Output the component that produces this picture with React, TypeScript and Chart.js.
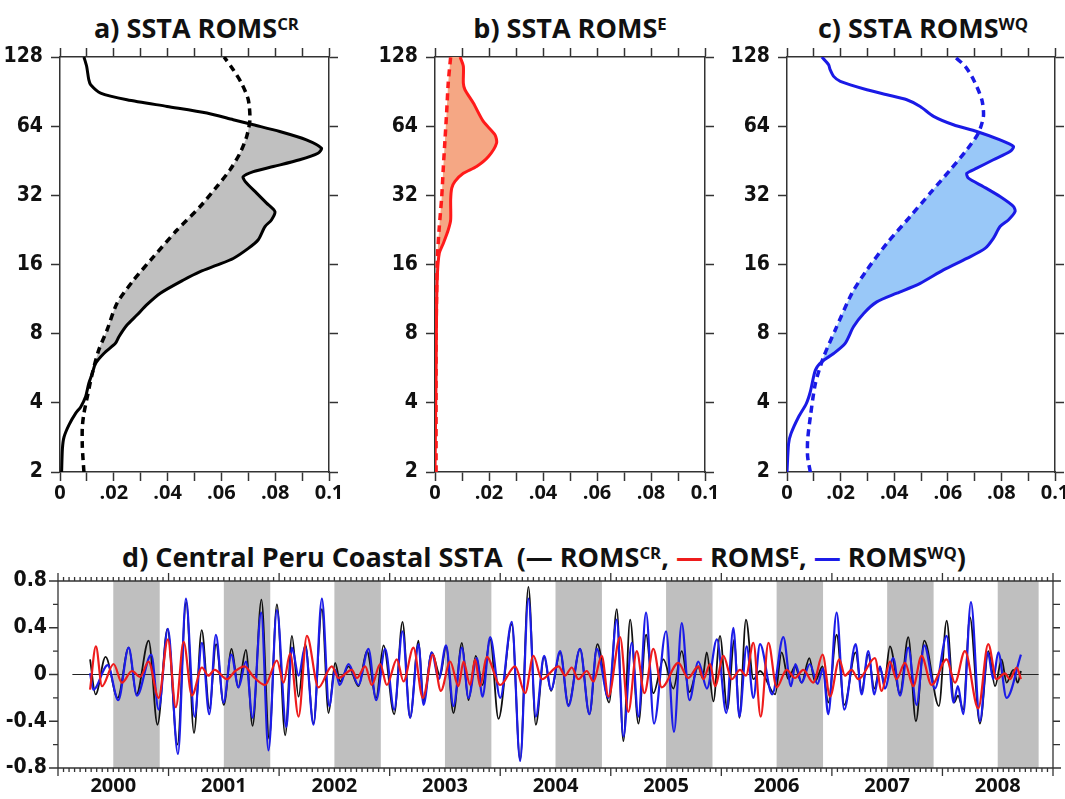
import { useEffect, useRef } from 'react';
import { Chart, registerables } from 'chart.js';

Chart.register(...registerables);

// ---- spectra (panels a-c): period in days on a log2 axis, power on x ----
const periodTicks = [2, 4, 8, 16, 32, 64, 128];
const powerTicks = [0, 0.01, 0.02, 0.03, 0.04, 0.05, 0.06, 0.07, 0.08, 0.09, 0.1];

// a) ROMS CR
const crPeriod = [2, 2.53, 2.84, 3.2, 3.6, 3.84, 4.25, 4.86, 5.37, 5.93, 6.56, 7.26, 7.76, 8.72, 9.64, 10.7, 12.0, 13.7, 14.9, 15.9, 17.0, 18.8, 20.5, 23.4, 25.0, 27.2, 29.6, 32.7, 36.8, 38.6, 40.6, 42.7, 45.7, 48.8, 51.3, 55.8, 60.7, 64.9, 68.3, 73.0, 78.0, 83.4, 89.2, 97, 102, 116.6, 128];
const crPower = [0.0006, 0.0009, 0.0015, 0.0033, 0.0058, 0.0077, 0.0095, 0.0107, 0.012, 0.0132, 0.0163, 0.0206, 0.0219, 0.0249, 0.0286, 0.0323, 0.0373, 0.0459, 0.0521, 0.0583, 0.0644, 0.07, 0.0737, 0.0762, 0.0786, 0.0799, 0.0768, 0.0731, 0.0688, 0.0681, 0.0719, 0.0793, 0.0891, 0.0959, 0.0972, 0.0916, 0.0817, 0.0719, 0.0644, 0.0546, 0.0398, 0.0249, 0.0151, 0.0114, 0.0107, 0.0099, 0.0089];
const crRefPeriod = [2, 2.57, 3.14, 3.6, 4.39, 5.37, 6.78, 8.3, 10.85, 13.7, 17.3, 22.6, 28.6, 34.9, 41.3, 48.8, 57.7, 68.3, 83.4, 98.4, 112.7, 128];
const crRefPower = [0.0089, 0.0083, 0.0083, 0.0089, 0.0104, 0.012, 0.0144, 0.0175, 0.0212, 0.0274, 0.0348, 0.0435, 0.0521, 0.0583, 0.0632, 0.0669, 0.0694, 0.0706, 0.07, 0.0675, 0.0644, 0.061];

// b) ROMS E
const ePeriod = [2, 5.37, 10.5, 14.65, 17.9, 19.8, 22.6, 25.0, 30.6, 34.4, 36.8, 39.9, 42.7, 47.2, 54.0, 58.7, 67.1, 80.7, 92.2, 98.6, 116.6, 128];
const ePower = [0, 0.0004, 0.0006, 0.0009, 0.0016, 0.0031, 0.0049, 0.0058, 0.0058, 0.0062, 0.0074, 0.0105, 0.0154, 0.0198, 0.0228, 0.0222, 0.0179, 0.0142, 0.0111, 0.0105, 0.0105, 0.0093];
const eRefPeriod = [2, 7.5, 12, 17.3, 23.4, 31.6, 42.7, 55.8, 73.0, 98.6, 128];
const eRefPower = [0.0004, 0.0004, 0.0006, 0.0009, 0.0016, 0.0025, 0.0031, 0.0037, 0.0043, 0.0049, 0.0058];

// c) ROMS WQ
const wqPeriod = [2, 2.66, 2.94, 3.47, 3.97, 4.47, 5.55, 6.04, 6.56, 7.26, 8.57, 9.8, 11.0, 12.0, 13.25, 15.15, 17.0, 18.8, 20.8, 23.4, 25.0, 27.2, 28.6, 31.6, 34.9, 38.0, 39.9, 42.0, 45.7, 49.6, 52.2, 55.8, 60.7, 64.9, 70.6, 78.0, 83.4, 87.7, 92.2, 100.3, 105.4, 112.7, 118.5, 128];
const wqPower = [0, 0.0006, 0.0015, 0.0043, 0.0072, 0.0087, 0.0106, 0.013, 0.0174, 0.0217, 0.0248, 0.0286, 0.0335, 0.041, 0.0497, 0.0584, 0.0671, 0.0739, 0.077, 0.0795, 0.0826, 0.0851, 0.0845, 0.0795, 0.0733, 0.0677, 0.0671, 0.0708, 0.077, 0.0832, 0.0845, 0.0795, 0.0708, 0.0621, 0.0547, 0.0497, 0.0447, 0.0373, 0.0298, 0.0199, 0.0174, 0.0161, 0.0155, 0.013];
const wqRefPeriod = [2, 2.33, 2.75, 3.47, 4.86, 6.35, 8.3, 11.98, 15.15, 19.8, 25.9, 32.7, 41.3, 50.5, 59.7, 70.6, 83.4, 102, 116.6, 128];
const wqRefPower = [0.0087, 0.0077, 0.0077, 0.0087, 0.0106, 0.0137, 0.018, 0.0242, 0.0298, 0.0373, 0.046, 0.0534, 0.0609, 0.0671, 0.0714, 0.0733, 0.0727, 0.0696, 0.0665, 0.0627];

// ---- d) coastal SSTA time series (decimal year, degC) ----
const yearTicks = [2000, 2001, 2002, 2003, 2004, 2005, 2006, 2007, 2008];
const sstaTicks = [-0.8, -0.4, 0, 0.4, 0.8];
const shadeFrom = [2000, 2001, 2002, 2003, 2004, 2005, 2006, 2007, 2008];
const shadeTo = [2000.42, 2001.42, 2002.42, 2003.42, 2004.42, 2005.42, 2006.42, 2007.42, 2008.37];
const zeroSpan = [1999.63, 2008.37];
const zeroValue = [0, 0];

const crYear = [1999.79, 1999.84, 1999.93, 2000.04, 2000.14, 2000.21, 2000.32, 2000.40, 2000.49, 2000.58, 2000.66, 2000.73, 2000.80, 2000.87, 2000.93, 2001.00, 2001.07, 2001.13, 2001.20, 2001.26, 2001.34, 2001.41, 2001.48, 2001.555, 2001.616, 2001.676, 2001.736, 2001.811, 2001.887, 2001.947, 2002.007, 2002.052, 2002.128, 2002.218, 2002.294, 2002.378, 2002.444, 2002.541, 2002.616, 2002.685, 2002.761, 2002.806, 2002.881, 2002.957, 2003.01, 2003.077, 2003.153, 2003.213, 2003.279, 2003.34, 2003.409, 2003.484, 2003.605, 2003.68, 2003.755, 2003.822, 2003.897, 2003.96, 2004.042, 2004.117, 2004.222, 2004.307, 2004.379, 2004.485, 2004.554, 2004.614, 2004.675, 2004.75, 2004.819, 2004.885, 2004.976, 2005.066, 2005.142, 2005.211, 2005.292, 2005.33, 2005.368, 2005.428, 2005.488, 2005.554, 2005.618, 2005.663, 2005.723, 2005.79, 2005.85, 2005.986, 2006.046, 2006.106, 2006.166, 2006.226, 2006.296, 2006.347, 2006.416, 2006.467, 2006.543, 2006.612, 2006.715, 2006.769, 2006.829, 2006.884, 2006.935, 2006.974, 2007.025, 2007.116, 2007.191, 2007.26, 2007.336, 2007.468, 2007.538, 2007.607, 2007.64, 2007.688, 2007.748, 2007.839, 2007.916, 2007.976, 2008.035, 2008.08, 2008.141, 2008.18, 2008.21];
const crSsta = [0.13, -0.17, 0.15, -0.2, 0.23, -0.17, 0.29, -0.43, 0.39, -0.6, 0.62, -0.5, 0.38, -0.29, 0.26, -0.26, 0.22, -0.11, 0.21, -0.44, 0.64, -0.55, 0.6, -0.52, 0.33, -0.19, 0.26, -0.42, 0.56, -0.33, 0.1, -0.06, 0.07, -0.1, 0.2, -0.2, 0.25, -0.34, 0.45, -0.37, 0.29, -0.23, 0.19, -0.01, 0.24, -0.33, 0.27, -0.22, 0.16, -0.09, 0.3, -0.38, 0.43, -0.73, 0.75, -0.43, 0.15, -0.14, 0.19, -0.26, 0.22, -0.34, 0.26, -0.24, 0.56, -0.57, 0.47, -0.42, 0.34, -0.16, 0.13, -0.12, 0.2, -0.15, 0.07, -0.03, 0.19, -0.23, 0.33, -0.3, 0.3, -0.37, 0.47, -0.04, 0.03, -0.17, 0.19, -0.04, 0.07, -0.07, 0.14, -0.06, 0.07, -0.24, 0.34, -0.26, 0.19, -0.14, 0.17, -0.12, 0.06, -0.07, 0.24, -0.16, 0.32, -0.4, 0.29, -0.27, 0.46, -0.24, -0.18, -0.3, 0.49, -0.42, 0.2, -0.1, 0.13, -0.07, 0.04, -0.07, 0.03];

const wqYear = [1999.79, 1999.82, 1999.95, 2000.045, 2000.139, 2000.214, 2000.344, 2000.41, 2000.494, 2000.585, 2000.657, 2000.735, 2000.802, 2000.868, 2000.928, 2000.997, 2001.067, 2001.133, 2001.2, 2001.26, 2001.338, 2001.404, 2001.48, 2001.565, 2001.616, 2001.676, 2001.736, 2001.811, 2001.887, 2001.953, 2002.007, 2002.048, 2002.128, 2002.218, 2002.308, 2002.378, 2002.459, 2002.541, 2002.616, 2002.685, 2002.761, 2002.806, 2002.881, 2002.944, 2003.01, 2003.077, 2003.153, 2003.213, 2003.288, 2003.34, 2003.409, 2003.5, 2003.605, 2003.68, 2003.755, 2003.822, 2003.897, 2003.96, 2004.042, 2004.117, 2004.222, 2004.307, 2004.373, 2004.479, 2004.554, 2004.614, 2004.69, 2004.75, 2004.819, 2004.891, 2005.0, 2005.072, 2005.142, 2005.211, 2005.292, 2005.37, 2005.46, 2005.545, 2005.609, 2005.663, 2005.729, 2005.79, 2005.85, 2005.96, 2006.061, 2006.13, 2006.17, 2006.226, 2006.3, 2006.37, 2006.42, 2006.467, 2006.543, 2006.612, 2006.715, 2006.769, 2006.829, 2006.884, 2006.935, 2006.979, 2007.055, 2007.116, 2007.191, 2007.266, 2007.336, 2007.432, 2007.538, 2007.6, 2007.64, 2007.688, 2007.758, 2007.839, 2007.91, 2007.96, 2008.005, 2008.08, 2008.21];
const wqSsta = [0.01, -0.13, 0.08, -0.22, 0.23, -0.18, 0.17, -0.3, 0.39, -0.68, 0.65, -0.36, 0.27, -0.34, 0.34, -0.24, 0.17, -0.11, 0.11, -0.37, 0.53, -0.65, 0.55, -0.45, 0.23, -0.01, 0.24, -0.43, 0.65, -0.27, 0.04, -0.09, 0.09, -0.09, 0.22, -0.22, 0.22, -0.3, 0.37, -0.37, 0.26, -0.26, 0.19, -0.04, 0.25, -0.27, 0.23, -0.2, 0.14, -0.19, 0.32, -0.2, 0.45, -0.74, 0.65, -0.36, 0.16, -0.13, 0.2, -0.27, 0.22, -0.34, 0.22, -0.2, 0.47, -0.53, 0.27, -0.36, 0.53, -0.42, 0.37, -0.49, 0.44, -0.22, 0.11, -0.12, 0.3, -0.33, 0.4, -0.36, 0.24, -0.2, 0.26, -0.17, 0.32, -0.1, 0.09, -0.07, 0.09, -0.08, 0.05, -0.34, 0.53, -0.3, 0.26, -0.17, 0.2, -0.17, 0.07, -0.12, 0.14, -0.18, 0.23, -0.26, 0.25, -0.12, 0.33, -0.24, -0.1, -0.34, 0.62, -0.4, 0.19, -0.04, 0.19, -0.2, 0.17];

const eYear = [1999.79, 1999.843, 1999.898, 2000.003, 2000.078, 2000.169, 2000.244, 2000.319, 2000.41, 2000.494, 2000.566, 2000.636, 2000.711, 2000.802, 2000.86, 2000.917, 2001.028, 2001.103, 2001.187, 2001.269, 2001.374, 2001.48, 2001.54, 2001.6, 2001.676, 2001.751, 2001.856, 2001.977, 2002.037, 2002.158, 2002.203, 2002.279, 2002.339, 2002.414, 2002.474, 2002.565, 2002.625, 2002.715, 2002.8, 2002.891, 2002.963, 2003.047, 2003.122, 2003.168, 2003.228, 2003.273, 2003.318, 2003.378, 2003.499, 2003.635, 2003.725, 2003.8, 2003.876, 2004.027, 2004.087, 2004.147, 2004.207, 2004.283, 2004.343, 2004.418, 2004.479, 2004.584, 2004.659, 2004.735, 2004.804, 2004.885, 2004.961, 2005.111, 2005.2, 2005.292, 2005.338, 2005.398, 2005.443, 2005.519, 2005.594, 2005.669, 2005.723, 2005.79, 2005.856, 2005.926, 2006.0, 2006.091, 2006.166, 2006.241, 2006.332, 2006.416, 2006.483, 2006.567, 2006.618, 2006.678, 2006.739, 2006.889, 2006.95, 2007.025, 2007.085, 2007.161, 2007.236, 2007.311, 2007.402, 2007.538, 2007.613, 2007.703, 2007.824, 2007.914, 2007.989, 2008.065, 2008.11, 2008.171, 2008.21];
const eSsta = [-0.13, 0.24, -0.1, 0.09, -0.07, 0.03, -0.02, 0.11, -0.2, 0.3, -0.28, 0.28, -0.18, 0.06, -0.01, 0.04, -0.04, 0.03, 0.07, -0.02, -0.09, 0.12, -0.07, 0.18, -0.36, 0.33, -0.11, 0.07, -0.03, 0.04, -0.03, 0.07, -0.09, 0.09, -0.09, 0.13, -0.06, 0.23, -0.2, 0.17, -0.14, 0.11, -0.1, 0.11, -0.09, 0.13, -0.1, 0.15, -0.09, 0.07, -0.16, 0.16, -0.04, 0.07, -0.01, 0.06, -0.04, 0.03, -0.06, 0.16, -0.19, 0.32, -0.32, 0.2, -0.16, 0.22, -0.11, 0.1, -0.03, 0.07, -0.04, 0.09, -0.1, 0.16, -0.04, 0.04, -0.01, 0.27, -0.36, 0.27, -0.11, 0.04, -0.03, 0.04, -0.07, 0.17, -0.19, 0.13, -0.01, 0.04, -0.04, 0.14, -0.14, 0.11, -0.04, 0.1, -0.1, 0.16, -0.09, 0.13, -0.07, 0.2, -0.29, 0.26, -0.04, 0.01, -0.04, 0.06, -0.04];

const narrowFont = "'Liberation Sans Narrow', 'Arial Narrow', 'DejaVu Sans Condensed', sans-serif";
const plainFont = "'Open Sans', 'Liberation Sans', sans-serif";
const axisColor = '#333';
const labelColor = '#111';
const minorPerYear = 20;

const toPoints = (xs: number[], ys: number[]) => xs.map((x, i) => ({ x, y: ys[i] }));

const fmtPower = (v: number) => {
  const n = Math.round(v * 100);
  if (n % 2) return '';
  if (n === 0) return '0';
  if (n === 10) return '0.1';
  return '.' + String(n).padStart(2, '0');
};

// fills the region between the solid spectrum and the dashed reference where the solid lies to the right
const shadeBetween = {
  id: 'shadeBetween',
  beforeDatasetsDraw(chart: any, _args: any, opts: any) {
    const solid = chart.getDatasetMeta(0).dataset;
    const ref = chart.getDatasetMeta(1).dataset;
    const area = chart.chartArea;
    const ctx = chart.ctx;
    solid.updateControlPoints(area, 'x');
    ref.updateControlPoints(area, 'x');
    const rp = ref.points;
    const sp = solid.points;
    ctx.save();
    ctx.beginPath();
    ctx.rect(area.left, area.top, area.right - area.left, area.bottom - area.top);
    ctx.clip();
    ctx.beginPath();
    ref.path(ctx);
    ctx.lineTo(area.right + 20, rp[rp.length - 1].y);
    ctx.lineTo(area.right + 20, rp[0].y);
    ctx.closePath();
    ctx.clip();
    ctx.beginPath();
    solid.path(ctx);
    ctx.lineTo(area.left - 20, sp[sp.length - 1].y);
    ctx.lineTo(area.left - 20, sp[0].y);
    ctx.closePath();
    ctx.fillStyle = opts.color;
    ctx.fill();
    ctx.restore();
  },
};

const seasonFrame = {
  id: 'seasonFrame',
  beforeDatasetsDraw(chart: any) {
    const { ctx, chartArea, scales } = chart;
    ctx.save();
    ctx.fillStyle = '#bfbfbf';
    shadeFrom.forEach((s, i) => {
      const a = scales.x.getPixelForValue(s);
      const b = scales.x.getPixelForValue(shadeTo[i]);
      ctx.fillRect(a, chartArea.top, b - a, chartArea.bottom - chartArea.top);
    });
    ctx.restore();
  },
  afterDatasetsDraw(chart: any) {
    const { ctx, chartArea, scales } = chart;
    const { left, right, top, bottom } = chartArea;
    const x = scales.x;
    const y = scales.y;
    ctx.save();
    ctx.strokeStyle = axisColor;
    ctx.lineWidth = 1.3;
    ctx.beginPath();
    ctx.moveTo(left - 6, top);
    ctx.lineTo(right + 8, top);
    ctx.moveTo(left - 6, bottom);
    ctx.lineTo(right + 8, bottom);
    ctx.moveTo(left, top);
    ctx.lineTo(left, bottom);
    ctx.moveTo(right, top);
    ctx.lineTo(right, bottom);
    const steps = Math.round((x.max - x.min) * minorPerYear);
    for (let k = 0; k <= steps; k++) {
      const px = x.getPixelForValue(x.min + k / minorPerYear);
      const len = k % minorPerYear === 0 ? 8 : 4;
      ctx.moveTo(px, top);
      ctx.lineTo(px, top - len);
      ctx.moveTo(px, bottom);
      ctx.lineTo(px, bottom + len);
    }
    for (let k = 0; k <= 8; k++) {
      const py = y.getPixelForValue(y.min + k * 0.2);
      ctx.moveTo(left, py);
      ctx.lineTo(left - (k % 2 === 0 ? 9 : 5), py);
      ctx.moveTo(right, py);
      ctx.lineTo(right + 7, py);
    }
    ctx.stroke();
    ctx.restore();
  },
};

type SpectrumProps = {
  left: number;
  width: number;
  axisWidth: number;
  plotRight: number;
  period: number[];
  power: number[];
  refPeriod: number[];
  refPower: number[];
  color: string;
  fill: string;
};

function SpectrumPanel(p: SpectrumProps) {
  const canvasRef = useRef<HTMLCanvasElement>(null);

  useEffect(() => {
    const setPeriodTicks = (s: any) => {
      s.ticks = periodTicks.map((v) => ({ value: v }));
    };
    const setPowerTicks = (s: any) => {
      s.ticks = powerTicks.map((v) => ({ value: v }));
    };
    const grid = { drawOnChartArea: false, drawTicks: true, tickLength: 9, tickWidth: 1.5, tickColor: axisColor };
    const border = { display: true, color: axisColor, width: 1.5 };

    const chart = new Chart(canvasRef.current as HTMLCanvasElement, {
      type: 'line',
      data: {
        datasets: [
          {
            data: toPoints(p.power, p.period),
            borderColor: p.color,
            borderWidth: 3,
            pointRadius: 0,
            tension: 0.25,
            fill: false,
          },
          {
            data: toPoints(p.refPower, p.refPeriod),
            borderColor: p.color,
            borderWidth: 3.5,
            borderDash: [7, 5],
            pointRadius: 0,
            tension: 0.25,
            fill: false,
          },
        ],
      },
      options: {
        animation: false,
        responsive: false,
        maintainAspectRatio: false,
        layout: { padding: { top: 7, right: p.left + p.width - p.plotRight - 10, bottom: 8, left: 0 } },
        plugins: {
          legend: { display: false },
          tooltip: { enabled: false },
          shadeBetween: { color: p.fill },
        } as any,
        scales: {
          x: {
            type: 'linear',
            position: 'bottom',
            min: 0,
            max: 0.1,
            afterBuildTicks: setPowerTicks,
            afterFit: (s: any) => {
              s.height = 40;
              s.paddingLeft = 0;
              s.paddingRight = 0;
            },
            ticks: {
              callback: (v: any) => fmtPower(Number(v)),
              autoSkip: false,
              maxRotation: 0,
              padding: 0,
              color: labelColor,
              font: { family: plainFont, size: 20, weight: 'bold' },
            },
            grid,
            border,
          },
          x2: {
            type: 'linear',
            position: 'top',
            min: 0,
            max: 0.1,
            afterBuildTicks: setPowerTicks,
            afterFit: (s: any) => {
              s.height = 10;
              s.paddingLeft = 0;
              s.paddingRight = 0;
            },
            ticks: { display: false },
            grid,
            border,
          },
          y: {
            type: 'logarithmic',
            position: 'left',
            min: 2,
            max: 128,
            afterBuildTicks: setPeriodTicks,
            afterFit: (s: any) => {
              s.width = p.axisWidth;
              s.paddingTop = 0;
              s.paddingBottom = 0;
            },
            ticks: {
              callback: (v: any) => String(v),
              autoSkip: false,
              padding: 8,
              color: labelColor,
              font: { family: narrowFont, size: 21, weight: 'bold' },
            },
            grid,
            border,
          },
          y2: {
            type: 'logarithmic',
            position: 'right',
            min: 2,
            max: 128,
            afterBuildTicks: setPeriodTicks,
            afterFit: (s: any) => {
              s.width = 10;
              s.paddingTop = 0;
              s.paddingBottom = 0;
            },
            ticks: { display: false },
            grid,
            border,
          },
        } as any,
      },
      plugins: [shadeBetween],
    });

    return () => {
      chart.destroy();
    };
  }, []);

  return (
    <canvas
      ref={canvasRef}
      width={p.width}
      height={480}
      style={{ position: 'absolute', left: p.left, top: 40, width: p.width, height: 480 }}
    />
  );
}

function TimeSeriesPanel() {
  const canvasRef = useRef<HTMLCanvasElement>(null);

  useEffect(() => {
    const line = (data: any, color: string, width: number) => ({
      data,
      borderColor: color,
      borderWidth: width,
      pointRadius: 0,
      cubicInterpolationMode: 'monotone' as const,
      fill: false,
    });

    const chart = new Chart(canvasRef.current as HTMLCanvasElement, {
      type: 'line',
      data: {
        datasets: [
          line(toPoints(eYear, eSsta), '#ee1c1c', 2.2),
          line(toPoints(wqYear, wqSsta), '#1c1ce8', 2.2),
          line(toPoints(crYear, crSsta), '#111111', 1.8),
          { data: toPoints(zeroSpan, zeroValue), borderColor: '#222', borderWidth: 1.2, pointRadius: 0, fill: false },
        ],
      },
      options: {
        animation: false,
        responsive: false,
        maintainAspectRatio: false,
        layout: { padding: { top: 61, right: 12, bottom: 0, left: 0 } },
        plugins: { legend: { display: false }, tooltip: { enabled: false } },
        scales: {
          x: {
            type: 'linear',
            min: 1999.5,
            max: 2008.5,
            afterBuildTicks: (s: any) => {
              s.ticks = yearTicks.map((v) => ({ value: v }));
            },
            afterFit: (s: any) => {
              s.height = 31;
              s.paddingLeft = 0;
              s.paddingRight = 0;
            },
            ticks: {
              callback: (v: any) => String(v),
              autoSkip: false,
              maxRotation: 0,
              padding: 6,
              color: labelColor,
              font: { family: plainFont, size: 20, weight: 'bold' },
            },
            grid: { display: false, drawTicks: false },
            border: { display: false },
          },
          y: {
            type: 'linear',
            min: -0.8,
            max: 0.8,
            afterBuildTicks: (s: any) => {
              s.ticks = sstaTicks.map((v) => ({ value: v }));
            },
            afterFit: (s: any) => {
              s.width = 58;
              s.paddingTop = 0;
              s.paddingBottom = 0;
            },
            ticks: {
              callback: (v: any) => (Number(v) === 0 ? '0' : Number(v).toFixed(1)),
              autoSkip: false,
              padding: 11,
              color: labelColor,
              font: { family: narrowFont, size: 21, weight: 'bold' },
            },
            grid: { display: false, drawTicks: false },
            border: { display: false },
          },
        } as any,
      },
      plugins: [seasonFrame],
    });

    return () => {
      chart.destroy();
    };
  }, []);

  return (
    <canvas
      ref={canvasRef}
      width={1065}
      height={279}
      style={{ position: 'absolute', left: 0, top: 520, width: 1065, height: 279 }}
    />
  );
}

const titleStyle: any = {
  position: 'absolute',
  fontFamily: plainFont,
  fontWeight: 700,
  fontSize: 27,
  lineHeight: '30px',
  whiteSpace: 'nowrap',
  textAlign: 'center',
  color: labelColor,
};

const Sup = ({ children }: { children: any }) => (
  <span style={{ fontSize: '0.62em', position: 'relative', top: '-0.45em' }}>{children}</span>
);

export default function App() {
  return (
    <div
      style={{
        position: 'absolute',
        left: 0,
        top: 0,
        width: 1065,
        height: 799,
        background: '#fff',
        overflow: 'hidden',
      }}
    >
      <div style={{ ...titleStyle, left: 62, width: 269, top: 13 }}>
        a) SSTA ROMS<Sup>CR</Sup>
      </div>
      <div style={{ ...titleStyle, left: 435, width: 270, top: 13 }}>
        b) SSTA ROMS<Sup>E</Sup>
      </div>
      <div style={{ ...titleStyle, left: 789, width: 268, top: 13 }}>
        c) SSTA ROMS<Sup>WQ</Sup>
      </div>
      <SpectrumPanel
        left={0}
        width={350}
        axisWidth={60}
        plotRight={329}
        period={crPeriod}
        power={crPower}
        refPeriod={crRefPeriod}
        refPower={crRefPower}
        color="#000000"
        fill="#c0c0c0"
      />
      <SpectrumPanel
        left={370}
        width={350}
        axisWidth={65}
        plotRight={705}
        period={ePeriod}
        power={ePower}
        refPeriod={eRefPeriod}
        refPower={eRefPower}
        color="#ff1a1a"
        fill="#f5a784"
      />
      <SpectrumPanel
        left={720}
        width={345}
        axisWidth={67}
        plotRight={1055}
        period={wqPeriod}
        power={wqPower}
        refPeriod={wqRefPeriod}
        refPower={wqRefPower}
        color="#1a1ae6"
        fill="#99c8f8"
      />
      <div style={{ ...titleStyle, left: 44, width: 1000, top: 542 }}>
        d) Central Peru Coastal SSTA&nbsp; (<span style={{ color: '#111' }}>—</span> ROMS<Sup>CR</Sup>,{' '}
        <span style={{ color: '#ee1c1c' }}>—</span> ROMS<Sup>E</Sup>, <span style={{ color: '#1c1ce8' }}>—</span> ROMS
        <Sup>WQ</Sup>)
      </div>
      <TimeSeriesPanel />
    </div>
  );
}
